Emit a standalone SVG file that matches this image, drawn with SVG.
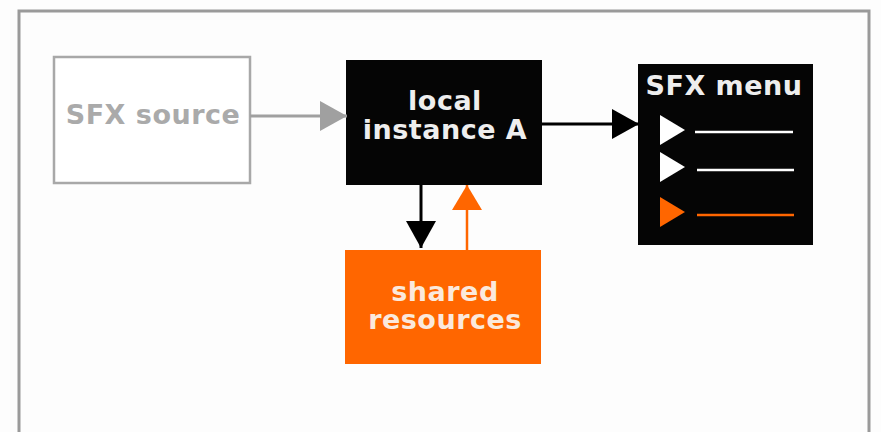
<svg xmlns="http://www.w3.org/2000/svg" width="881" height="432" viewBox="0 0 881 432">
<style>
.t{font-family:"DejaVu Sans","Liberation Sans",sans-serif;font-weight:bold;font-size:27px;letter-spacing:0.5px;text-anchor:middle}
</style>
<defs>
<marker id="ag" markerUnits="userSpaceOnUse" markerWidth="28" markerHeight="30" refX="27" refY="15" orient="auto"><path d="M0,0 L27,15 L0,30 Z" fill="#a0a0a0"/></marker>
<marker id="ab" markerUnits="userSpaceOnUse" markerWidth="28" markerHeight="30" refX="27" refY="15" orient="auto"><path d="M0,0 L27,15 L0,30 Z" fill="#000"/></marker>
<marker id="ao" markerUnits="userSpaceOnUse" markerWidth="26" markerHeight="30" refX="25" refY="15" orient="auto"><path d="M0,0 L25,15 L0,30 Z" fill="#ff6600"/></marker>
</defs>
<rect width="881" height="432" fill="#fdfdfd"/>
<path d="M19,440 V11 H869 V440" fill="none" stroke="#9a9a9a" stroke-width="3"/>
<g id="sfx-source">
<rect x="54" y="57" width="196" height="126" fill="#fff" stroke="#a8a8a8" stroke-width="2.5"/>
<text class="t" x="153" y="124" fill="#aaa">SFX source</text>
</g>
<g id="local-instance">
<rect x="346" y="60" width="196" height="125" fill="#050505"/>
<text class="t" x="445" y="110" fill="#eee">local</text>
<text class="t" x="445" y="139" fill="#eee">instance A</text>
</g>
<g id="shared-resources">
<rect x="345" y="250" width="196" height="114" fill="#ff6600"/>
<text class="t" x="445" y="301" fill="#fbe9dc">shared</text>
<text class="t" x="445" y="329" fill="#fbe9dc">resources</text>
</g>
<g id="sfx-menu">
<rect x="638" y="64" width="175" height="181" fill="#050505"/>
<text class="t" x="724" y="95" fill="#eee">SFX menu</text>
<path d="M660,115 L685,130 L660,145 Z" fill="#fff"/>
<line x1="695" y1="132" x2="793" y2="132" stroke="#fff" stroke-width="2.5"/>
<path d="M660,152 L685,167 L660,182 Z" fill="#fff"/>
<line x1="697" y1="170" x2="794" y2="170" stroke="#fff" stroke-width="2.5"/>
<path d="M660,197 L685,212 L660,227 Z" fill="#ff6600"/>
<line x1="697" y1="215" x2="794" y2="215" stroke="#ff6600" stroke-width="2.5"/>
</g>
<g id="connectors">
<line x1="250" y1="116" x2="347" y2="116" stroke="#a0a0a0" stroke-width="3" marker-end="url(#ag)"/>
<line x1="542" y1="124" x2="639" y2="124" stroke="#000" stroke-width="3" marker-end="url(#ab)"/>
<line x1="421" y1="185" x2="421" y2="248" stroke="#000" stroke-width="3" marker-end="url(#ab)"/>
<line x1="467" y1="250" x2="467" y2="185" stroke="#ff6600" stroke-width="2.5" marker-end="url(#ao)"/>
</g>
</svg>
